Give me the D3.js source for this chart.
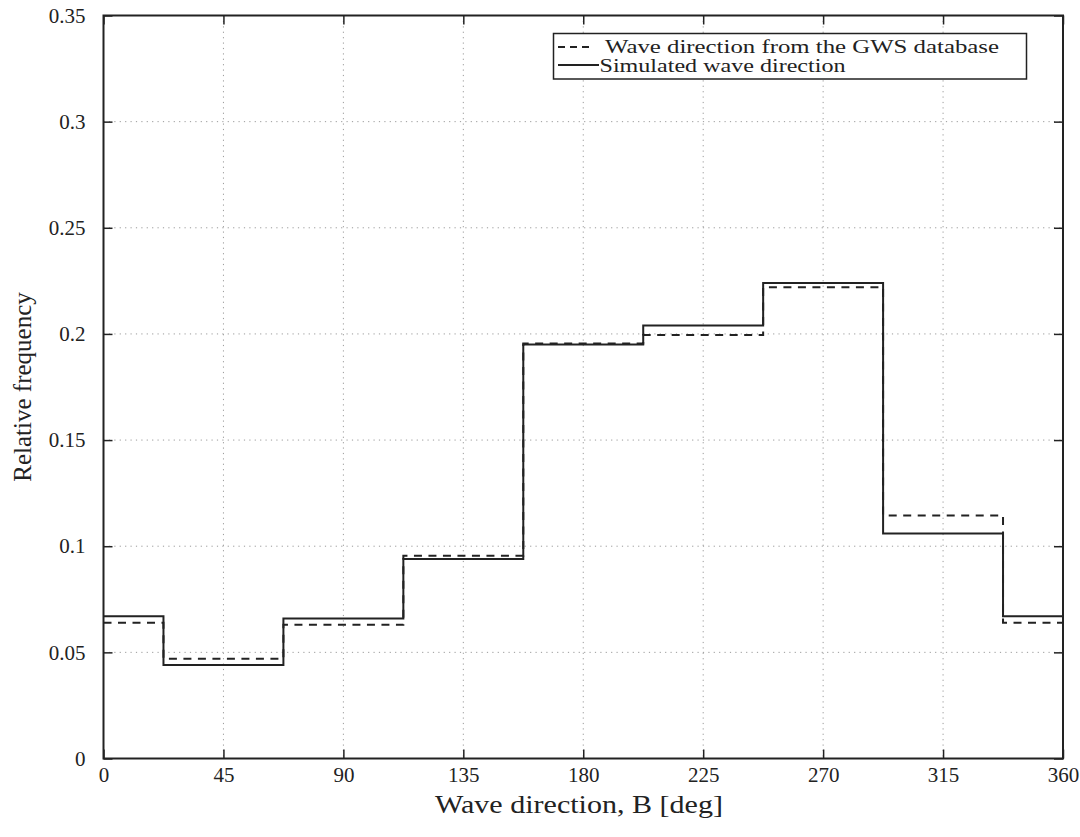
<!DOCTYPE html>
<html>
<head>
<meta charset="utf-8">
<script src="https://cdn.jsdelivr.net/npm/d3@7"></script>
<style>
  html, body { margin: 0; padding: 0; background: #fff; }
  svg { display: block; }
</style>
</head>
<body>
<svg id="chart" width="1080" height="837"></svg>
<script>
// Direction sector edges (deg); the north sector is split at 0/360
const binEdges = [0, 22.5, 67.5, 112.5, 157.5, 202.5, 247.5, 292.5, 337.5, 360];
// Relative frequency per sector
const gwsFreq = [0.064, 0.047, 0.063, 0.0955, 0.1955, 0.1995, 0.222, 0.1145, 0.064];
const simFreq = [0.067, 0.044, 0.066, 0.094, 0.195, 0.204, 0.224, 0.106, 0.067];
const xTicks = [0, 45, 90, 135, 180, 225, 270, 315, 360];
const yTicks = [0, 0.05, 0.1, 0.15, 0.2, 0.25, 0.3, 0.35];
const seriesNames = ["Wave direction from the GWS database", "Simulated wave direction"];

const FONT = "'Liberation Serif', 'DejaVu Serif', serif";
const INK = "#222";

const svg = d3.select("#chart");
const plotLeft = 103.5, plotRight = 1063, plotTop = 15.5, plotBottom = 758.5;

const x = d3.scaleLinear().domain([0, 360]).range([plotLeft, plotRight]);
const y = d3.scaleLinear().domain([0, 0.35]).range([plotBottom, plotTop]);

// Dotted grid
const grid = svg.append("g").attr("stroke", "#9a9a9a").attr("stroke-width", 1)
  .attr("stroke-dasharray", "1.2,4.2");
grid.selectAll(".gx").data(xTicks.slice(1, -1)).join("line")
  .attr("x1", d => x(d)).attr("x2", d => x(d)).attr("y1", plotTop).attr("y2", plotBottom);
grid.selectAll(".gy").data(yTicks.slice(1, -1)).join("line")
  .attr("x1", plotLeft).attr("x2", plotRight).attr("y1", d => y(d)).attr("y2", d => y(d));

// Axes with inward ticks on all four sides
const tickLen = 9;
function styleAxis(g) {
  g.attr("font-family", FONT).attr("font-size", 21);
  g.select(".domain").remove();
  g.selectAll(".tick line").attr("stroke", INK).attr("stroke-width", 1.5);
  g.selectAll(".tick text").attr("fill", INK);
}
svg.append("g").attr("transform", `translate(0,${plotBottom})`)
  .call(d3.axisBottom(x).tickValues(xTicks).tickFormat(d3.format("d")).tickSizeInner(-tickLen).tickSizeOuter(0).tickPadding(9))
  .call(styleAxis);
svg.append("g").attr("transform", `translate(0,${plotTop})`)
  .call(d3.axisTop(x).tickValues(xTicks).tickFormat("").tickSizeInner(-tickLen).tickSizeOuter(0))
  .call(styleAxis);
svg.append("g").attr("transform", `translate(${plotLeft},0)`)
  .call(d3.axisLeft(y).tickValues(yTicks).tickFormat(d => d === 0 ? "0" : String(+d.toFixed(2))).tickSizeInner(-tickLen).tickSizeOuter(0).tickPadding(18))
  .call(styleAxis);
svg.append("g").attr("transform", `translate(${plotRight},0)`)
  .call(d3.axisRight(y).tickValues(yTicks).tickFormat("").tickSizeInner(-tickLen).tickSizeOuter(0))
  .call(styleAxis);

// Step histograms
function stepPoints(vals) {
  const pts = vals.map((v, i) => [binEdges[i], v]);
  pts.push([binEdges[binEdges.length - 1], vals[vals.length - 1]]);
  return pts;
}
const line = d3.line().x(d => x(d[0])).y(d => y(d[1])).curve(d3.curveStepAfter);

svg.append("path").datum(stepPoints(gwsFreq))
  .attr("d", line).attr("fill", "none").attr("stroke", INK)
  .attr("stroke-width", 2).attr("stroke-dasharray", "8,6.5");
svg.append("path").datum(stepPoints(simFreq))
  .attr("d", line).attr("fill", "none").attr("stroke", INK)
  .attr("stroke-width", 2);

// Plot frame
svg.append("rect").attr("x", plotLeft).attr("y", plotTop)
  .attr("width", plotRight - plotLeft).attr("height", plotBottom - plotTop)
  .attr("fill", "none").attr("stroke", INK).attr("stroke-width", 2);

// Legend
const lg = svg.append("g").attr("font-family", FONT).attr("fill", INK);
lg.append("rect").attr("x", 553.5).attr("y", 33.5).attr("width", 473).attr("height", 45.5)
  .attr("fill", "#fff").attr("stroke", INK).attr("stroke-width", 1.5);
lg.append("line").attr("x1", 558).attr("x2", 594).attr("y1", 47).attr("y2", 47)
  .attr("stroke", INK).attr("stroke-width", 2).attr("stroke-dasharray", "7,5");
lg.append("line").attr("x1", 558).attr("x2", 599).attr("y1", 65).attr("y2", 65)
  .attr("stroke", INK).attr("stroke-width", 2);
lg.append("text").attr("x", 605).attr("y", 52.5).attr("font-size", 19)
  .attr("textLength", 394).attr("lengthAdjust", "spacingAndGlyphs").text(seriesNames[0]);
lg.append("text").attr("x", 599.5).attr("y", 71.5).attr("font-size", 19)
  .attr("textLength", 246).attr("lengthAdjust", "spacingAndGlyphs").text(seriesNames[1]);

// Axis titles
svg.append("text").attr("x", 579).attr("y", 813)
  .attr("font-family", FONT).attr("font-size", 25).attr("fill", INK)
  .attr("text-anchor", "middle").attr("textLength", 288).attr("lengthAdjust", "spacingAndGlyphs")
  .text("Wave direction, B [deg]");
svg.append("text").attr("transform", `translate(31,${(plotTop + plotBottom) / 2}) rotate(-90)`)
  .attr("font-family", FONT).attr("font-size", 25).attr("fill", INK)
  .attr("text-anchor", "middle").text("Relative frequency");
</script>
</body>
</html>
